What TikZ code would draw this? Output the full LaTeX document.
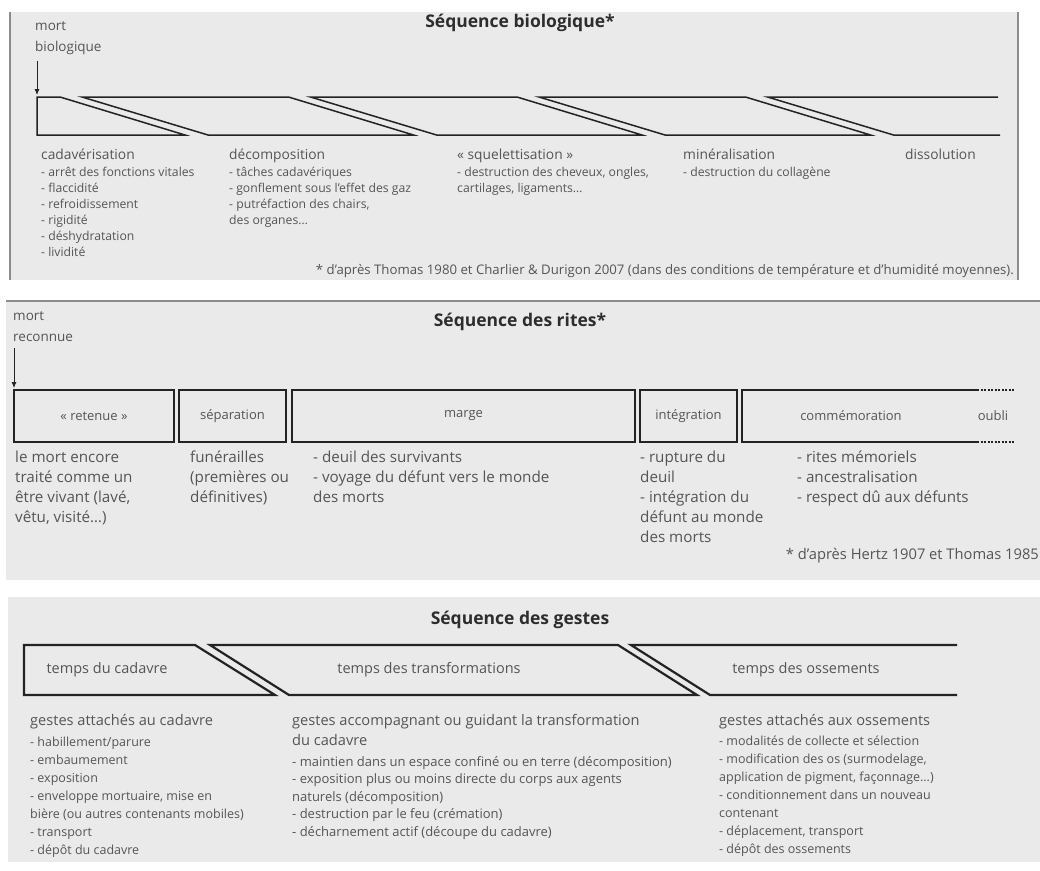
\documentclass[tikz,border=0pt]{standalone}
\usepackage{fontspec}
\setmainfont{Open Sans}
\usetikzlibrary{arrows.meta,positioning}
\definecolor{panelgray}{RGB}{234,234,234}
\definecolor{framegray}{RGB}{140,140,140}
\definecolor{txtgray}{RGB}{85,85,85}
\definecolor{titlegray}{RGB}{45,45,45}
\definecolor{linegray}{RGB}{35,35,35}

\begin{document}
\begin{tikzpicture}[x=1pt,y=-1pt,
    seqtitle/.style={font=\fontsize{17.5}{20}\selectfont\bfseries,text=titlegray,inner sep=0},
    deathlabel/.style={anchor=base west,align=left,inner sep=0,text=txtgray,
      font=\fontsize{13.5}{21}\selectfont},
    deatharrow/.style={-{Latex[length=6pt,width=5pt]},linegray,line width=0.8pt},
    phasename/.style={anchor=base west,inner sep=0,text=txtgray,
      font=\fontsize{13.8}{16}\selectfont},
    phaselist/.style={anchor=base west,align=left,inner sep=0,text=txtgray,
      font=\fontsize{12.2}{16}\selectfont},
    ritelist/.style={anchor=base west,align=left,inner sep=0,text=txtgray,
      font=\fontsize{15.2}{20}\selectfont},
    gestehead/.style={anchor=base west,align=left,inner sep=0,text=txtgray,
      font=\fontsize{14.6}{20}\selectfont},
    gestelist/.style={anchor=base west,align=left,inner sep=0,text=txtgray,
      font=\fontsize{12.5}{18}\selectfont},
    footnote/.style={anchor=base east,inner sep=0,text=txtgray,
      font=\fontsize{13.2}{14}\selectfont},
    bioline/.style={linegray,line width=1.5pt},
    gesteline/.style={linegray,line width=2.2pt},
    boxlabel/.style={text=txtgray,font=\fontsize{13}{16}\selectfont},
    ritebox/.style={boxlabel,draw=linegray,line width=1.8pt,minimum height=52,inner sep=0},
  ]
  \useasboundingbox (0,0) rectangle (1040,870);

  % ---------------- Sequence biologique ----------------
  \fill[panelgray] (10,12) rectangle (1018,280);
  \draw[framegray,line width=1.2pt] (10,12) -- (10,280) (1018,12) -- (1018,280);
  \node[seqtitle] (bioTitle) at (520,23) {Séquence biologique*};

  \node[deathlabel] (mortBio) at (35,51) {mort\\biologique};
  \coordinate (bioStart) at (37,95);
  \draw[deatharrow] ([yshift=-7pt]mortBio.south west -| bioStart) -- (bioStart);

  % band of overlapping phases
  \draw[bioline] (37,97) -- (60,97) -- (185,135) -- (37,135) -- cycle;
  \foreach \i in {1,2,3}{
    \pgfmathsetmacro{\xa}{60+228.5*\i}
    \draw[bioline] (\xa-206.5,97) -- (\xa,97) -- (\xa+125,135) -- (\xa-80.5,135) -- cycle;
  }
  \draw[bioline] (998,97) -- (767.5,97) -- (893.5,135) -- (1000,135);

  % last line of each list sits on the given baseline
  \node[phasename] (cadav) at (41,159) {cadavérisation};
  \node[phaselist] (cadavList) at (41,256)
    {- arrêt des fonctions vitales\\- flaccidité\\- refroidissement\\- rigidité\\- déshydratation\\- lividité};
  \node[phasename] (decomp) at (229,159) {décomposition};
  \node[phaselist] (decompList) at (229,224)
    {- tâches cadavériques\\- gonflement sous l'effet des gaz\\- putréfaction des chairs,\\des organes\ldots};
  \node[phasename] (squel) at (457,159) {«~squelettisation~»};
  \node[phaselist] (squelList) at (457,192)
    {- destruction des cheveux, ongles,\\cartilages, ligaments\ldots};
  \node[phasename] (miner) at (683,159) {minéralisation};
  \node[phaselist] (minerList) at (683,176) {- destruction du collagène};
  \node[phasename] (dissol) at (905,159) {dissolution};

  \node[footnote] (bioNote) at (1014,274)
    {* d'après Thomas 1980 et Charlier \& Durigon 2007 (dans des conditions de température et d'humidité moyennes).};

  % ---------------- Sequence des rites ----------------
  \fill[panelgray] (6,301) rectangle (1040,580);
  \draw[framegray,line width=1.2pt] (6,301) -- (1040,301);
  \node[seqtitle] (riteTitle) at (520,322) {Séquence des rites*};

  \node[deathlabel] (mortRec) at (13,341) {mort\\reconnue};
  \coordinate (riteStart) at (14,388);
  \draw[deatharrow] ([yshift=-7pt]mortRec.south west -| riteStart) -- (riteStart);

  \node[ritebox,minimum width=160] (retenue) at (94,416) {«~retenue~»};
  \node[ritebox,minimum width=107] (separ) at (232.5,416) {séparation};
  \node[ritebox,minimum width=343] (marge) at (463.5,416) {marge};
  \node[ritebox,minimum width=97] (integr) at (688.5,416) {intégration};
  \draw[linegray,line width=1.8pt] (977,390) -- (742,390) -- (742,442) -- (977,442);
  \draw[linegray,line width=1.5pt,dash pattern=on 2pt off 1.5pt] (977,390) -- (1014,390) (977,442) -- (1014,442);
  \node[boxlabel] (commem) at (851,416) {commémoration};
  \node[boxlabel] (oubli) at (993,416) {oubli};

  \node[ritelist] (retenueList) at (15,522)
    {le mort encore\\traité comme un\\être vivant (lavé,\\vêtu, visité\ldots)};
  \node[ritelist] (separList) at (190,502) {funérailles\\(premières ou\\définitives)};
  \node[ritelist] (margeList) at (313,502)
    {- deuil des survivants\\- voyage du défunt vers le monde\\des morts};
  \node[ritelist] (integrList) at (640,542)
    {- rupture du\\deuil\\- intégration du\\défunt au monde\\des morts};
  \node[ritelist] (commemList) at (797,502)
    {- rites mémoriels\\- ancestralisation\\- respect dû aux défunts};
  \node[footnote,font=\fontsize{14.7}{16}\selectfont] (riteNote) at (1039,559)
    {* d'après Hertz 1907 et Thomas 1985};

  % ---------------- Sequence des gestes ----------------
  \fill[panelgray] (8,597) rectangle (1040,862);
  \node[seqtitle] (gesteTitle) at (520,620) {Séquence des gestes};

  \draw[gesteline] (24,645) -- (195,645) -- (275,695) -- (24,695) -- cycle;
  \draw[gesteline] (210,645) -- (618,645) -- (697,695) -- (289,695) -- cycle;
  \draw[gesteline] (957,645) -- (631,645) -- (710,695) -- (957,695);
  \node[boxlabel,font=\fontsize{14.5}{16}\selectfont] (tCadavre) at (107,670) {temps du cadavre};
  \node[boxlabel,font=\fontsize{14.5}{16}\selectfont] (tTransf) at (429,670) {temps des transformations};
  \node[boxlabel,font=\fontsize{14.5}{16}\selectfont] (tOssem) at (806,670) {temps des ossements};

  \node[gestehead] (cadavreHead) at (30,725) {gestes attachés au cadavre};
  \node[gestelist] (cadavreList) at (30,854)
    {- habillement/parure\\- embaumement\\- exposition\\- enveloppe mortuaire, mise en\\bière (ou autres contenants mobiles)\\- transport\\- dépôt du cadavre};
  \node[gestehead] (transfHead) at (292,745)
    {gestes accompagnant ou guidant la transformation\\du cadavre};
  \node[gestelist,font=\fontsize{13}{17.5}\selectfont] (transfList) at (292,836)
    {- maintien dans un espace confiné ou en terre (décomposition)\\- exposition plus ou moins directe du corps aux agents\\naturels (décomposition)\\- destruction par le feu (crémation)\\- décharnement actif (découpe du cadavre)};
  \node[gestehead] (ossemHead) at (719,725) {gestes attachés aux ossements};
  \node[gestelist] (ossemList) at (719,853)
    {- modalités de collecte et sélection\\- modification des os (surmodelage,\\application de pigment, façonnage\ldots)\\- conditionnement dans un nouveau\\contenant\\- déplacement, transport\\- dépôt des ossements};
\end{tikzpicture}
\end{document}
